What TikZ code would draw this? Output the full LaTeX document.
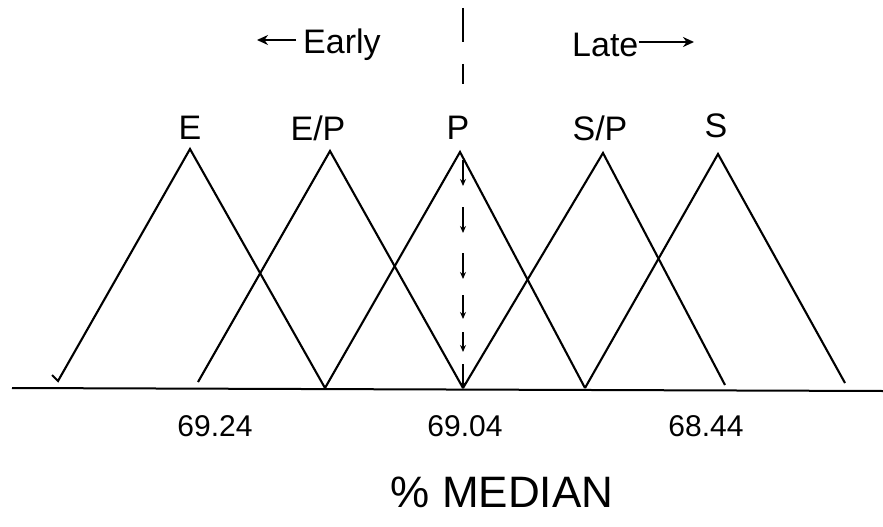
\documentclass[tikz,border=0pt]{standalone}
\usepackage{fontspec}
\setmainfont{Liberation Sans}
\usetikzlibrary{arrows.meta}
\begin{document}
\begin{tikzpicture}[x=1pt,y=-1pt,
  leg/.style={line width=2.1pt,line join=miter},
  lbl/.style={font=\fontsize{34}{36}\selectfont,inner sep=0pt},
  num/.style={font=\fontsize{30}{32}\selectfont,inner sep=0pt},
  dseg/.style={line width=1.8pt,-{Stealth[length=7pt,width=6pt]}},
  sidearrow/.style={line width=2.2pt,-{Stealth[length=11pt,width=10pt]}}]
\useasboundingbox[fill=white] (0,0) rectangle (883,527);

% baseline
\coordinate (b0) at (12,388);
\coordinate (b1) at (883,391);
\draw[line width=2pt] (b0) -- (b1);

% triangles
\coordinate (EL) at (58,381);  \coordinate (ET) at (190,149); \coordinate (ER) at (325,388);
\coordinate (EPL) at (198,382); \coordinate (EPT) at (330,151); \coordinate (EPR) at (463,388);
\coordinate (PL) at (325,388); \coordinate (PT) at (460,152); \coordinate (PR) at (585,388);
\coordinate (SPL) at (463,388); \coordinate (SPT) at (603,153); \coordinate (SPR) at (725,385);
\coordinate (SL) at (585,388); \coordinate (ST) at (718,154); \coordinate (SR) at (845,383);
\coordinate (tick) at (52,375);
\draw[leg] (tick) -- (EL) -- (ET) -- (ER);
\draw[leg] (EPL) -- (EPT) -- (EPR);
\draw[leg] (PL) -- (PT) -- (PR);
\draw[leg] (SPL) -- (SPT) -- (SPR);
\draw[leg] (SL) -- (ST) -- (SR);

% dashed arrow made of short arrowed strokes
\foreach \i/\a/\b in {1/160/186, 2/207/233, 3/253/279, 4/295/319, 5/332/352, 6/364/389} {
  \coordinate (ds\i) at (463,\a);
  \coordinate (de\i) at (463,\b);
  \draw[dseg] (ds\i) -- (de\i);
}

% top divider
\coordinate (v1) at (463,8); \coordinate (v2) at (463,42);
\coordinate (v3) at (463,64); \coordinate (v4) at (463,84);
\draw[line width=2.2pt] (v1) -- (v2);
\draw[line width=2.2pt] (v3) -- (v4);

% Early / Late
\node[lbl,anchor=west] (early) at (303,45) {Early};
\coordinate (ea1) at (296,40); \coordinate (ea2) at (257,40);
\draw[sidearrow] (ea1) -- (ea2);
\node[lbl,anchor=west] (late) at (572,45) {Late};
\coordinate (la2) at (694,42);
\draw[sidearrow] (late.east |- la2) -- (la2);

% curve labels
\node[lbl] (lE) at (190,128) {E};
\node[lbl] (lEP) at (318,128) {E/P};
\node[lbl] (lP) at (458,128) {P};
\node[lbl] (lSP) at (600,128) {S/P};
\node[lbl] (lS) at (716,126) {S};

% numbers
\node[num] (n1) at (215,426) {69.24};
\node[num] (n2) at (465,426) {69.04};
\node[num] (n3) at (706,426) {68.44};

\node[font=\fontsize{44}{46}\selectfont,inner sep=0pt] (med) at (502,492) {\% MEDIAN};
\end{tikzpicture}
\end{document}
